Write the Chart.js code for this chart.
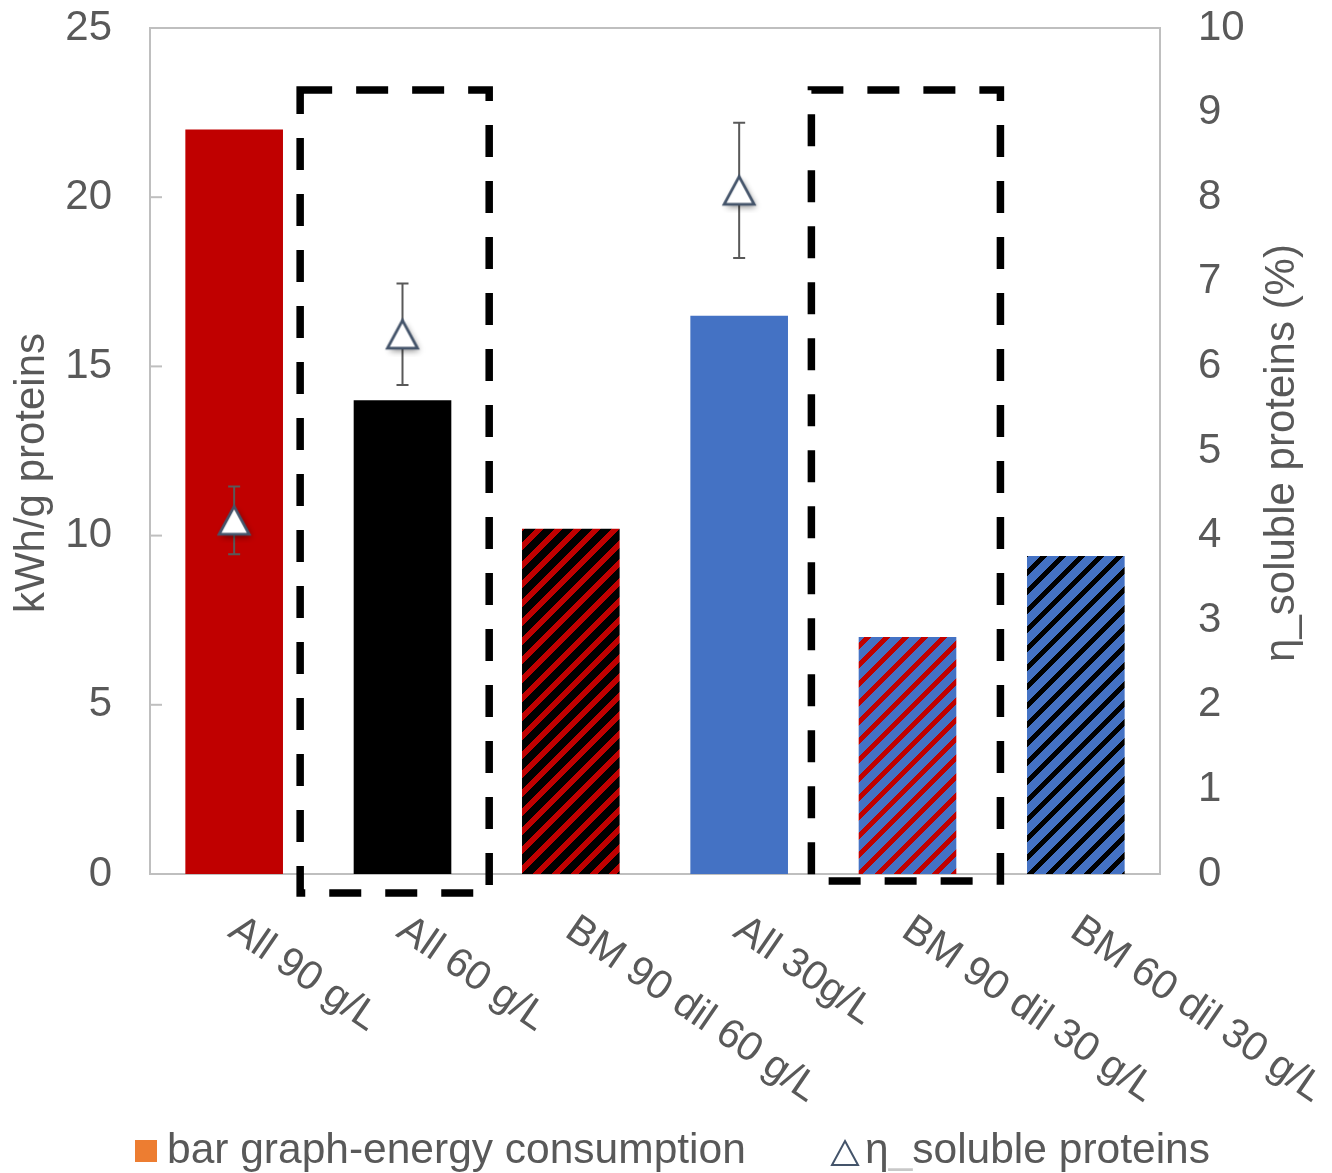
<!DOCTYPE html>
<html>
<head>
<meta charset="utf-8">
<script src="https://cdn.jsdelivr.net/npm/chart.js@4.4.1/dist/chart.umd.min.js"></script>
<style>
  html, body { margin: 0; padding: 0; background: #fff; }
</style>
</head>
<body>
<canvas id="graphique" width="1332" height="1173"></canvas>
<script>
// --- DONNEES ---
const categories = ['All 90 g/L', 'All 60 g/L', 'BM 90 dil 60 g/L', 'All 30g/L', 'BM 90 dil 30 g/L', 'BM 60 dil 30 g/L'];
const energie = [22, 14, 10.2, 16.5, 7, 9.4];          // kWh/g proteins
const solubles = [4.18, 6.38, null, 8.08, null, null];  // η soluble proteins (%)
const erreurs = [0.4, 0.6, null, 0.8, null, null];
const ticksGauche = [0, 5, 10, 15, 20, 25];
const ticksDroite = [0, 1, 2, 3, 4, 5, 6, 7, 8, 9, 10];

const POLICE = '"Liberation Sans", Arial, sans-serif';
const GRIS = '#595959';

// motif hachuré (rayures diagonales, pixel par pixel)
function hachure(fond, trait, largeur) {
    const P = 19;
    const c = document.createElement('canvas');
    c.width = P; c.height = P;
    const g = c.getContext('2d');
    g.fillStyle = fond;
    g.fillRect(0, 0, P, P);
    g.fillStyle = trait;
    for (let y = 0; y < P; y++) {
        for (let x = 0; x < P; x++) {
            if ((x + y) % P < largeur) g.fillRect(x, y, 1, 1);
        }
    }
    return g.createPattern(c, 'repeat');
}

// marqueur triangle avec ombre
function triangle() {
    const c = document.createElement('canvas');
    c.width = 46; c.height = 46;
    const g = c.getContext('2d');
    const cx = 23, cy = 23, w = 15, h = 13.8;
    g.beginPath();
    g.moveTo(cx, cy - h);
    g.lineTo(cx + w, cy + h);
    g.lineTo(cx - w, cy + h);
    g.closePath();
    g.save();
    g.shadowColor = 'rgba(0,0,0,0.45)';
    g.shadowBlur = 6;
    g.shadowOffsetX = 2;
    g.shadowOffsetY = 3;
    g.fillStyle = '#fff';
    g.fill();
    g.restore();
    g.lineWidth = 2.8;
    g.strokeStyle = '#44546A';
    g.stroke();
    return c;
}

const couleursBarres = [
    '#C00000',
    '#000000',
    hachure('#000000', '#C00000', 8),
    '#4472C4',
    hachure('#4472C4', '#C00000', 7),
    hachure('#4472C4', '#000000', 7)
];

// cadres en pointillés (en unités des axes)
const cadres = [
    { debut: 0.392, fin: 1.515, haut: 23.17, bas: -0.56 },
    { debut: 3.429, fin: 4.552, haut: 23.17, bas: -0.21 }
];

const decor = {
    id: 'decor',
    beforeDatasetsDraw(chart) {
        const { ctx, chartArea: a, scales } = chart;
        ctx.save();
        ctx.strokeStyle = '#BFBFBF';
        ctx.lineWidth = 2;
        ctx.strokeRect(a.left, a.top, a.right - a.left, a.bottom - a.top);
        ticksGauche.forEach(v => {
            const y = scales.y.getPixelForValue(v);
            ctx.beginPath();
            ctx.moveTo(a.left, y);
            ctx.lineTo(a.left + 12, y);
            ctx.stroke();
        });
        ctx.restore();
    },
    beforeDatasetDraw(chart, args) {
        if (args.index !== 1) return;
        const { ctx, scales } = chart;
        ctx.save();
        ctx.strokeStyle = GRIS;
        ctx.lineWidth = 2;
        solubles.forEach((v, i) => {
            if (v == null) return;
            const x = scales.x.getPixelForValue(i);
            const yh = scales.y1.getPixelForValue(v + erreurs[i]);
            const yb = scales.y1.getPixelForValue(v - erreurs[i]);
            ctx.beginPath();
            ctx.moveTo(x, yh); ctx.lineTo(x, yb);
            ctx.moveTo(x - 6, yh); ctx.lineTo(x + 6, yh);
            ctx.moveTo(x - 6, yb); ctx.lineTo(x + 6, yb);
            ctx.stroke();
        });
        ctx.restore();
    },
    afterDatasetsDraw(chart) {
        const { ctx, scales } = chart;
        ctx.save();
        ctx.strokeStyle = '#000';
        ctx.lineWidth = 7.5;
        ctx.setLineDash([32, 24]);
        cadres.forEach(c => {
            const x1 = scales.x.getPixelForValue(c.debut);
            const x2 = scales.x.getPixelForValue(c.fin);
            const y1 = scales.y.getPixelForValue(c.haut);
            const y2 = scales.y.getPixelForValue(c.bas);
            ctx.strokeRect(x1, y1, x2 - x1, y2 - y1);
        });
        ctx.restore();
    },
    afterDraw(chart) {
        const { ctx, scales } = chart;
        ctx.save();
        ctx.fillStyle = GRIS;

        // étiquettes de l'axe x, inclinées
        const angle = 34.5 * Math.PI / 180;
        ctx.font = '41px ' + POLICE;
        ctx.textAlign = 'left';
        ctx.textBaseline = 'alphabetic';
        categories.forEach((lab, i) => {
            const x = scales.x.getPixelForValue(i) + 9;
            ctx.save();
            ctx.translate(x, 911);
            ctx.rotate(angle);
            ctx.fillText(lab, 0, 41 * 0.716);
            ctx.restore();
        });

        // titres des axes
        ctx.textAlign = 'center';
        ctx.textBaseline = 'middle';
        ctx.save();
        ctx.translate(32, 473);
        ctx.rotate(-Math.PI / 2);
        ctx.font = '42px ' + POLICE;
        ctx.fillText('kWh/g proteins', 0, 0);
        ctx.restore();
        ctx.save();
        ctx.translate(1282, 453);
        ctx.rotate(-Math.PI / 2);
        ctx.font = '42px ' + POLICE;
        ctx.fillText('η_soluble proteins (%)', 0, 0);
        ctx.restore();

        // légende
        ctx.font = '42.5px ' + POLICE;
        ctx.textAlign = 'left';
        ctx.textBaseline = 'alphabetic';
        ctx.fillStyle = '#ED7D31';
        ctx.fillRect(135, 1140, 22, 22);
        ctx.fillStyle = GRIS;
        ctx.fillText('bar graph-energy consumption', 167, 1163);

        ctx.beginPath();
        ctx.moveTo(845, 1141);
        ctx.lineTo(858, 1165);
        ctx.lineTo(832, 1165);
        ctx.closePath();
        ctx.strokeStyle = '#44546A';
        ctx.lineWidth = 2;
        ctx.stroke();
        let x = 865;
        ctx.fillText('η', x, 1163);
        x += ctx.measureText('η').width;
        ctx.fillStyle = '#C8C8C8';
        ctx.fillText('_', x, 1163);
        x += ctx.measureText('_').width;
        ctx.fillStyle = GRIS;
        ctx.fillText('soluble proteins', x, 1163);
        ctx.restore();
    }
};

const ctx = document.getElementById('graphique').getContext('2d');
new Chart(ctx, {
    data: {
        labels: categories,
        datasets: [
            {
                type: 'bar',
                label: 'bar graph-energy consumption',
                data: energie,
                backgroundColor: couleursBarres,
                borderWidth: 0,
                barPercentage: 0.58,
                categoryPercentage: 1.0,
                yAxisID: 'y',
                order: 1
            },
            {
                type: 'line',
                label: 'η_soluble proteins',
                data: solubles,
                showLine: false,
                pointStyle: triangle(),
                yAxisID: 'y1',
                order: 0
            }
        ]
    },
    options: {
        responsive: false,
        animation: false,
        layout: { padding: { top: 28, left: 0, right: 0, bottom: 0 } },
        plugins: {
            legend: { display: false },
            tooltip: { enabled: false }
        },
        scales: {
            x: {
                offset: true,
                grid: { display: false, drawTicks: false },
                border: { display: false },
                ticks: { display: false },
                afterFit: s => { s.height = 299; }
            },
            y: {
                position: 'left',
                min: 0, max: 25,
                afterBuildTicks: s => { s.ticks = ticksGauche.map(v => ({ value: v })); },
                grid: { display: false, drawTicks: false },
                border: { display: false },
                ticks: { color: GRIS, padding: 38, font: { family: POLICE, size: 42 } },
                afterFit: s => { s.width = 150; s.paddingTop = 0; s.paddingBottom = 0; }
            },
            y1: {
                position: 'right',
                min: 0, max: 10,
                afterBuildTicks: s => { s.ticks = ticksDroite.map(v => ({ value: v })); },
                grid: { display: false, drawTicks: false },
                border: { display: false },
                ticks: { color: GRIS, padding: 38, font: { family: POLICE, size: 42 } },
                afterFit: s => { s.width = 172; s.paddingTop = 0; s.paddingBottom = 0; }
            }
        }
    },
    plugins: [decor]
});
</script>
</body>
</html>
